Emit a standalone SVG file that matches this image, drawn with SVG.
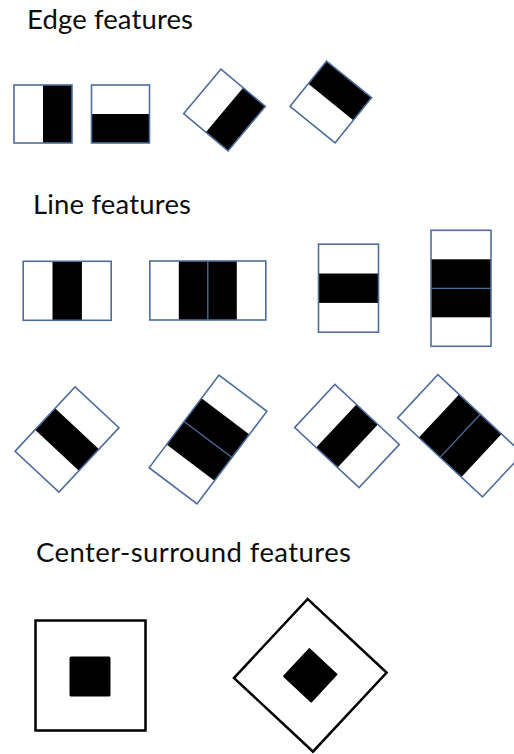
<svg xmlns="http://www.w3.org/2000/svg" xmlns:xlink="http://www.w3.org/1999/xlink" width="514" height="754" viewBox="0 0 514 754">
  <style>
    .title { font-family: Lato, "Open Sans", "Liberation Sans", sans-serif; font-size: 27.5px; fill: #0d0d0d; }
    .frame { fill: none; stroke: #4d6d9e; stroke-width: 1.6; }
    .bg { fill: #ffffff; }
    .dark { fill: #000000; }
    .split { stroke: #4d6d9e; stroke-width: 1.3; }
    .cs { fill: #ffffff; stroke: #000000; stroke-width: 2.5; }
  </style>
  <defs>
    <!-- two-rectangle edge kernels, centred on the origin -->
    <g id="edge-v">
      <rect class="bg" x="-29" y="-29" width="58" height="58"/>
      <rect class="dark" x="0" y="-29" width="29" height="58"/>
      <rect class="frame" x="-29" y="-29" width="58" height="58"/>
    </g>
    <g id="edge-h">
      <rect class="bg" x="-29" y="-29" width="58" height="58"/>
      <rect class="dark" x="-29" y="0" width="58" height="29"/>
      <rect class="frame" x="-29" y="-29" width="58" height="58"/>
    </g>
    <!-- three-rectangle line kernels -->
    <g id="line3-v">
      <rect class="bg" x="-44" y="-29.5" width="88" height="59"/>
      <rect class="dark" x="-14.7" y="-29.5" width="29.4" height="59"/>
      <rect class="frame" x="-44" y="-29.5" width="88" height="59"/>
    </g>
    <g id="line3-h">
      <rect class="bg" x="-30" y="-44" width="60" height="88"/>
      <rect class="dark" x="-30" y="-14.7" width="60" height="29.4"/>
      <rect class="frame" x="-30" y="-44" width="60" height="88"/>
    </g>
    <!-- four-rectangle line kernels with a split in the dark band -->
    <g id="line4-v">
      <rect class="bg" x="-58" y="-29.5" width="116" height="59"/>
      <rect class="dark" x="-29" y="-29.5" width="58" height="59"/>
      <line class="split" x1="0" y1="-29.5" x2="0" y2="29.5"/>
      <rect class="frame" x="-58" y="-29.5" width="116" height="59"/>
    </g>
    <g id="line4-h">
      <rect class="bg" x="-30" y="-58" width="60" height="116"/>
      <rect class="dark" x="-30" y="-29" width="60" height="58"/>
      <line class="split" x1="-30" y1="0" x2="30" y2="0"/>
      <rect class="frame" x="-30" y="-58" width="60" height="116"/>
    </g>
  </defs>

  <!-- section headings -->
  <text class="title" x="27" y="29" textLength="166" lengthAdjust="spacing">Edge features</text>
  <text class="title" x="33" y="214" textLength="158" lengthAdjust="spacing">Line features</text>
  <text class="title" x="36" y="562" textLength="315" lengthAdjust="spacing">Center-surround features</text>

  <!-- edge features -->
  <g id="edge-1"><use href="#edge-v" transform="translate(43 114)"/></g>
  <g id="edge-2"><use href="#edge-h" transform="translate(120.5 114)"/></g>
  <g id="edge-3"><use href="#edge-v" transform="translate(224.5 110) rotate(40)"/></g>
  <g id="edge-4"><use href="#edge-h" transform="translate(330.8 102) rotate(219)"/></g>

  <!-- upright line features -->
  <g id="line-1"><use href="#line3-v" transform="translate(67.2 290.8)"/></g>
  <g id="line-2"><use href="#line4-v" transform="translate(207.8 290.5)"/></g>
  <g id="line-3"><use href="#line3-h" transform="translate(348.5 288.2)"/></g>
  <g id="line-4"><use href="#line4-h" transform="translate(461 288.3)"/></g>

  <!-- tilted line features -->
  <g id="line-5"><use href="#line3-h" transform="translate(67 439.5) rotate(43)"/></g>
  <g id="line-6"><use href="#line4-h" transform="translate(208 439.5) rotate(37)"/></g>
  <g id="line-7"><use href="#line3-v" transform="translate(347 436) rotate(43)"/></g>
  <g id="line-8"><use href="#line4-v" transform="translate(460.2 435.8) rotate(43)"/></g>

  <!-- center-surround features -->
  <g id="center-1">
    <rect class="cs" x="35.5" y="620.5" width="110" height="110"/>
    <rect class="dark" x="69.5" y="656.5" width="41" height="40" rx="1.5"/>
  </g>
  <g id="center-2" transform="translate(310.3 675.3) rotate(43)">
    <rect class="cs" x="-54" y="-54" width="108" height="108"/>
    <rect class="dark" x="-19.5" y="-19.5" width="39" height="39" rx="1"/>
  </g>

  <!-- no connectors in this figure -->
  <g id="connectors"/>
</svg>
